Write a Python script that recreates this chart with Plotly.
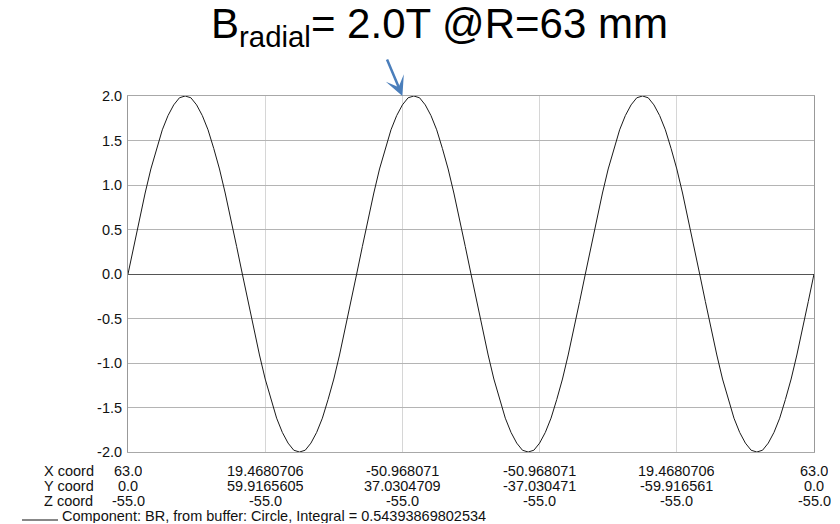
import plotly.graph_objects as go

# Position along the circle (degrees) and the radial field component BR (T)
angle_deg = [
    0, 3, 6, 9, 12, 15, 18, 21, 24, 27, 30, 33, 36, 39, 42, 45, 48, 51, 54, 57,
    60, 63, 66, 69, 72, 75, 78, 81, 84, 87, 90, 93, 96, 99, 102, 105, 108, 111, 114, 117,
    120, 123, 126, 129, 132, 135, 138, 141, 144, 147, 150, 153, 156, 159, 162, 165, 168, 171, 174, 177,
    180, 183, 186, 189, 192, 195, 198, 201, 204, 207, 210, 213, 216, 219, 222, 225, 228, 231, 234, 237,
    240, 243, 246, 249, 252, 255, 258, 261, 264, 267, 270, 273, 276, 279, 282, 285, 288, 291, 294, 297,
    300, 303, 306, 309, 312, 315, 318, 321, 324, 327, 330, 333, 336, 339, 342, 345, 348, 351, 354, 357,
    360,
]
br_tesla = [
    0.00, 0.31, 0.62, 0.91, 1.18, 1.41, 1.62, 1.78, 1.90, 1.98, 2.00, 1.98, 1.90, 1.78, 1.62, 1.41, 1.18, 0.91, 0.62, 0.31,
    0.00, -0.31, -0.62, -0.91, -1.18, -1.41, -1.62, -1.78, -1.90, -1.98, -2.00, -1.98, -1.90, -1.78, -1.62, -1.41, -1.18, -0.91, -0.62, -0.31,
    0.00, 0.31, 0.62, 0.91, 1.18, 1.41, 1.62, 1.78, 1.90, 1.98, 2.00, 1.98, 1.90, 1.78, 1.62, 1.41, 1.18, 0.91, 0.62, 0.31,
    0.00, -0.31, -0.62, -0.91, -1.18, -1.41, -1.62, -1.78, -1.90, -1.98, -2.00, -1.98, -1.90, -1.78, -1.62, -1.41, -1.18, -0.91, -0.62, -0.31,
    0.00, 0.31, 0.62, 0.91, 1.18, 1.41, 1.62, 1.78, 1.90, 1.98, 2.00, 1.98, 1.90, 1.78, 1.62, 1.41, 1.18, 0.91, 0.62, 0.31,
    0.00, -0.31, -0.62, -0.91, -1.18, -1.41, -1.62, -1.78, -1.90, -1.98, -2.00, -1.98, -1.90, -1.78, -1.62, -1.41, -1.18, -0.91, -0.62, -0.31,
    0.00,
]

# Tick positions and the coordinate labels printed under each one
tick_pos = [0, 72, 144, 216, 288, 360]
x_coord = ["63.0", "19.4680706", "-50.968071", "-50.968071", "19.4680706", "63.0"]
y_coord = ["0.0", "59.9165605", "37.0304709", "-37.030471", "-59.916561", "0.0"]
z_coord = ["-55.0", "-55.0", "-55.0", "-55.0", "-55.0", "-55.0"]
row_names = ["X coord", "Y coord", "Z coord"]
y_ticks = [-2.0, -1.5, -1.0, -0.5, 0.0, 0.5, 1.0, 1.5, 2.0]
y_tick_text = ["-2.0", "-1.5", "-1.0", "-0.5", "0.0", "0.5", "1.0", "1.5", "2.0"]

caption = "Component: BR, from buffer: Circle, Integral = 0.54393869802534"
headline = "B<sub>radial</sub>= 2.0T @R=63 mm"

FONT = "Liberation Sans, Arial, sans-serif"

fig = go.Figure()
fig.add_trace(go.Scatter(
    x=angle_deg, y=br_tesla, mode="lines",
    line=dict(color="#1a1a1a", width=1),
    hoverinfo="skip", showlegend=False,
))

annotations = []
# Coordinate rows under the x axis (fixed-height boxes so the rows pack tightly)
row_shift = [-18.5, -33.5, -48.5]
for r, (name, values) in enumerate(zip(row_names, [x_coord, y_coord, z_coord])):
    annotations.append(dict(
        x=0, y=0, xref="x", yref="paper", text=name, showarrow=False,
        xanchor="left", yanchor="middle", xshift=-86, yshift=row_shift[r],
        height=14, valign="middle",
        font=dict(family=FONT, size=14.5, color="#111"),
    ))
    for pos, val in zip(tick_pos, values):
        annotations.append(dict(
            x=pos, y=0, xref="x", yref="paper", text=val, showarrow=False,
            xanchor="center", yanchor="middle", yshift=row_shift[r],
            height=14, valign="middle",
            font=dict(family=FONT, size=14.5, color="#111"),
        ))

# Curve key: a short line sample followed by the component description
annotations.append(dict(
    x=0, y=0, xref="x", yref="paper", text=caption, showarrow=False,
    xanchor="left", yanchor="middle", xshift=-68, yshift=-63.5,
    height=15, valign="middle",
    font=dict(family=FONT, size=14.5, color="#111"),
))
key_line = dict(
    type="line", xref="paper", yref="paper",
    xsizemode="pixel", ysizemode="pixel", xanchor=0, yanchor=0,
    x0=-106, x1=-70, y0=-68, y1=-68,
    line=dict(color="#111111", width=1),
)

# Headline and the arrow pointing at the peak
annotations.append(dict(
    x=0.4544, y=1, xref="paper", yref="paper", text=headline, showarrow=False,
    xanchor="center", yanchor="bottom", yshift=41,
    font=dict(family=FONT, size=42, color="#000"),
))
annotations.append(dict(
    x=144, y=2.0, xref="x", yref="y", text="", showarrow=True,
    ax=-16, ay=-38, axref="pixel", ayref="pixel",
    arrowhead=3, arrowsize=1.3, arrowwidth=2.5, arrowcolor="#4a7ebb",
))

fig.update_layout(
    width=840, height=524,
    margin=dict(l=128, r=26, t=96, b=72),
    paper_bgcolor="white", plot_bgcolor="white",
    font=dict(family=FONT, size=14, color="#111"),
    annotations=annotations,
    shapes=[key_line],
    xaxis=dict(
        range=[0, 360], tickvals=tick_pos, showticklabels=False,
        showgrid=True, gridcolor="#d6d6d6", gridwidth=1,
        zeroline=False, showline=True, mirror=True, linecolor="#a8a8a8", linewidth=1,
        ticks="",
    ),
    yaxis=dict(
        range=[-2.0, 2.0], tickvals=y_ticks, ticktext=y_tick_text,
        showgrid=True, gridcolor="#b4b4b4", gridwidth=1,
        zeroline=True, zerolinecolor="#555555", zerolinewidth=1,
        showline=True, mirror=True, linecolor="#999999", linewidth=1,
        ticks="", ticklabelstandoff=2,
        tickfont=dict(family=FONT, size=14.5, color="#111"),
    ),
)

fig.write_html("out.html")
